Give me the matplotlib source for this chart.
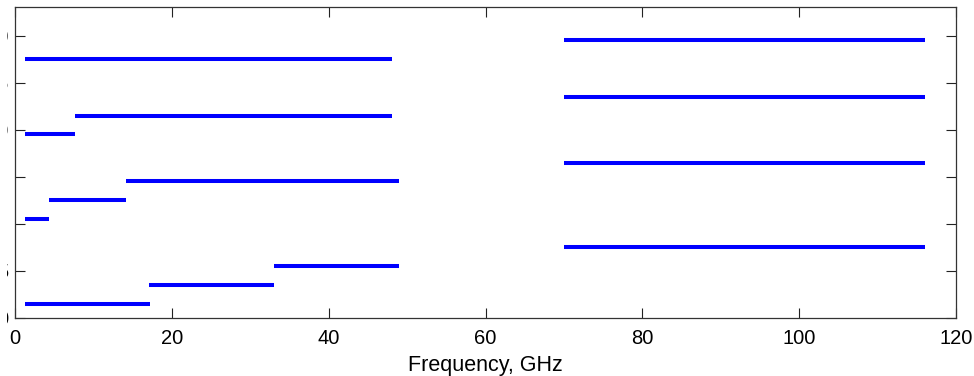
import matplotlib
matplotlib.use("Agg")
import matplotlib.pyplot as plt
from matplotlib.patches import Rectangle

plt.rcParams['font.family'] = ['Liberation Sans', 'DejaVu Sans']

# band segments: start frequency, end frequency (GHz), vertical level
band_start = [1.2, 7.6, 1.2, 14.1, 4.3, 1.2, 33.0, 17.0, 1.2, 70.0, 70.0, 70.0, 70.0]
band_end   = [48.0, 48.0, 7.6, 49.0, 14.1, 4.3, 49.0, 33.0, 17.2, 116.0, 116.0, 116.0, 116.0]
band_level = [27.5, 21.5, 19.5, 14.5, 12.5, 10.5, 5.5, 3.5, 1.5, 29.5, 23.5, 16.5, 7.5]

x_ticks = [0, 20, 40, 60, 80, 100, 120]
y_ticks = [0, 5, 10, 15, 20, 25, 30]

fig = plt.figure(figsize=(9.74, 3.76), dpi=100)
ax = fig.add_axes([0.0157, 0.1543, 0.9658, 0.8263])

for s, e, lv in zip(band_start, band_end, band_level):
    ax.plot([s, e], [lv, lv], color='#0000ff', linewidth=2.9, solid_capstyle='butt')

ax.set_xlim(0, 120)
ax.set_ylim(0, 33)
ax.set_xticks(x_ticks)
ax.set_xticklabels([str(t) for t in x_ticks])
ax.set_yticks(y_ticks)
ax.set_yticklabels([str(t) for t in y_ticks])

ax.tick_params(direction='in', length=7.5, width=0.8, color='#222222',
               top=True, right=True, labelsize=14.5)
ax.tick_params(axis='x', pad=8)
ax.tick_params(axis='y', pad=5.1)
for sp in ax.spines.values():
    sp.set_linewidth(0.9)
    sp.set_color('#333333')

ax.set_xlabel('Frequency, GHz', fontsize=15.5, labelpad=5)

# in the reference the y tick labels are cut by the left edge of the picture,
# leaving only a thin sliver of each one visible
mask = Rectangle((0, 0), 6.8 / 974, 1, transform=fig.transFigure,
                 facecolor='white', edgecolor='none', zorder=10)
fig.add_artist(mask)

fig.savefig('out.png', dpi=100)
